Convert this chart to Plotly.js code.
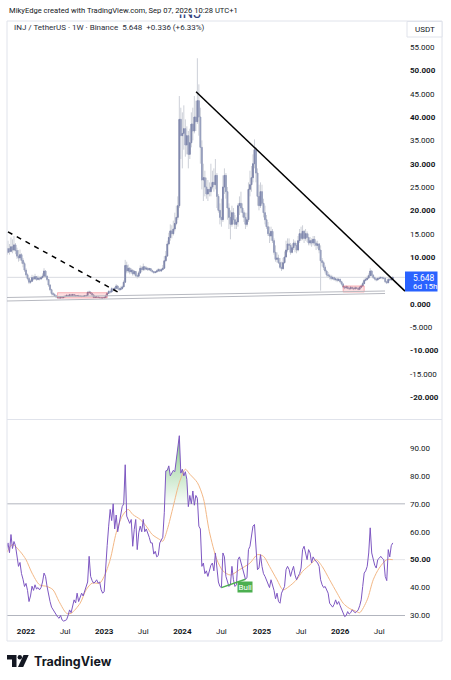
<!DOCTYPE html>
<html><head><meta charset="utf-8">
<script src="https://cdn.plot.ly/plotly-3.0.1.min.js"></script>
<style>html,body{margin:0;padding:0;background:#fff}#chart{width:451px;height:680px}</style>
</head><body><div id="chart"></div>
<script>
// ---------- DATA ----------
const weekStart = '2021-10-04';
const firstOpen = 10.5;
const closes = [
11.0,11.8,11.2,12.2,11.5,12.6,11.4,10.2,9.8,10.5,
9.3,8.6,7.2,6.2,5.4,4.6,4.8,5.6,5.3,5.8,
5.2,5.5,5.3,5.6,5.9,7.0,5.9,5.2,4.0,3.0,
2.2,2.0,1.7,1.5,1.3,1.25,1.4,1.3,1.5,1.6,
1.8,1.7,1.9,1.8,1.95,1.8,1.7,1.75,1.65,1.6,
1.55,1.6,1.7,1.75,2.4,2.5,2.2,1.9,1.35,1.45,
1.45,1.35,1.3,1.25,1.25,1.35,1.7,2.2,2.6,2.5,
3.2,3.0,3.3,3.8,3.3,3.0,3.2,3.6,4.6,8.2,
7.0,7.6,6.8,7.2,6.4,6.9,6.0,5.9,6.6,7.6,
7.3,7.9,7.4,7.6,7.3,7.5,7.1,6.9,6.7,6.8,
7.0,7.3,7.0,7.3,7.6,9.2,10.2,12.8,14.2,15.6,
15.0,16.0,17.2,18.5,21.0,39.5,36.0,36.5,37.5,34.0,
36.0,32.0,34.5,38.5,37.0,40.0,39.0,43.5,40.0,33.5,
26.5,27.0,25.0,23.5,24.5,24.0,25.0,26.0,25.5,27.5,
23.0,20.0,18.5,18.0,25.0,27.5,24.0,20.5,18.5,17.0,
19.5,18.0,17.0,17.5,21.0,21.5,20.5,19.5,18.5,17.0,
18.0,24.5,25.5,27.0,30.0,33.0,28.0,23.0,21.0,24.0,
21.5,19.5,18.0,16.5,15.0,14.5,15.5,13.5,11.0,9.5,
9.8,8.8,7.8,7.5,8.8,10.0,11.5,12.8,12.5,11.0,
12.0,13.0,12.5,11.5,13.5,15.0,14.0,15.5,14.0,15.0,
14.2,13.0,13.5,13.0,13.8,13.0,12.5,12.8,11.5,9.2,
8.8,7.8,7.0,6.2,6.0,5.8,5.4,5.6,5.2,5.3,
5.0,5.2,4.7,4.2,3.6,3.4,3.6,3.3,3.2,3.5,
3.3,3.2,3.4,3.3,3.1,3.5,3.8,4.3,5.0,5.2,
5.5,6.0,7.0,6.1,5.6,5.3,5.1,5.4,5.5,5.6,
5.5,5.45,4.7,4.5,5.2,5.1,5.312,5.648];
const highs = [
13.0,13.5,12.8,14.2,13.8,14.5,13.0,12.0,11.5,11.6,
10.8,9.8,9.0,7.6,6.5,5.6,5.2,6.2,6.0,6.4,
5.9,6.0,5.8,6.0,6.5,7.6,7.2,6.0,5.3,4.2,
3.2,2.5,2.2,1.9,1.6,1.6,1.6,1.5,1.7,1.8,
1.9,1.95,2.1,2.0,2.1,2.0,1.9,1.85,1.9,1.75,
1.7,1.75,1.8,1.9,2.7,2.8,2.6,2.3,1.9,1.6,
1.55,1.5,1.4,1.35,1.3,1.45,2.0,2.5,2.9,2.9,
3.5,3.4,3.6,4.2,3.9,3.4,3.7,3.9,5.0,9.4,
9.0,8.4,7.8,7.6,7.3,7.2,7.0,6.3,7.0,8.2,
8.0,8.6,8.1,8.0,7.8,7.7,7.6,7.3,7.0,7.0,
7.3,7.6,7.5,7.6,8.3,10.2,11.3,13.5,15.2,17.0,
16.8,17.8,19.5,21.0,23.0,44.5,42.0,41.0,42.5,39.5,
38.0,37.0,37.5,41.0,42.0,44.5,43.5,52.6,47.0,42.0,
35.0,30.0,28.5,27.0,26.5,26.0,30.0,28.5,29.0,31.0,
28.0,23.5,21.5,22.5,27.5,29.0,28.0,25.0,21.5,20.0,
21.0,20.5,19.0,18.5,21.5,23.0,24.0,21.5,20.0,19.5,
19.5,26.0,28.5,29.5,32.0,35.2,33.5,29.0,25.5,26.0,
25.5,22.5,21.0,19.0,17.5,16.5,16.5,16.0,14.0,12.5,
11.0,10.5,9.8,9.0,9.8,11.2,13.5,14.0,14.0,13.0,
12.8,13.8,13.5,13.0,14.5,16.0,16.5,16.8,15.8,16.0,
15.5,15.0,14.3,14.0,14.5,14.5,13.5,13.5,13.0,12.5,
9.8,9.2,8.2,7.3,6.8,6.4,6.2,6.0,5.8,5.6,
5.5,5.5,5.4,4.9,4.4,3.8,3.9,3.8,3.5,3.8,
3.6,3.5,3.7,3.6,3.5,3.8,4.1,4.7,5.4,5.7,
6.0,6.5,7.6,7.2,6.3,5.8,5.5,5.7,5.8,5.9,
5.8,5.8,5.5,4.9,5.5,5.5,5.6,5.8];
const lows = [
10.2,10.8,10.5,11.0,10.8,11.2,10.6,9.6,9.0,9.2,
8.6,7.8,6.8,5.8,5.0,4.2,4.3,4.7,5.0,5.1,
4.9,5.0,5.0,5.1,5.4,5.8,5.6,4.8,3.6,2.7,
1.8,1.7,1.5,1.2,1.1,1.1,1.0,1.1,1.2,1.4,
1.5,1.6,1.6,1.7,1.75,1.7,1.6,1.6,1.55,1.5,
1.4,1.45,1.5,1.6,1.7,2.1,2.0,1.6,1.2,1.3,
1.35,1.3,1.2,1.15,1.15,1.2,1.35,1.7,2.1,2.2,
2.5,2.7,2.8,3.1,3.0,2.7,2.9,3.2,3.5,4.5,
6.5,6.6,6.3,6.4,6.0,6.1,5.7,5.4,5.6,6.4,
6.8,7.0,7.1,7.2,7.0,7.0,6.9,6.6,6.4,6.5,
6.6,6.9,6.8,6.9,7.2,7.5,9.0,10.2,12.5,13.5,
14.0,14.6,15.5,16.8,18.0,20.5,31.0,29.0,33.0,31.5,
32.0,29.0,31.0,33.5,35.0,36.5,37.0,38.5,36.0,30.0,
24.5,22.0,23.0,22.5,22.0,23.0,23.0,24.5,24.0,24.5,
20.5,19.5,17.0,16.5,17.5,23.5,22.5,18.0,16.0,13.8,
16.5,17.0,16.0,16.0,16.5,19.0,19.5,18.5,17.5,16.0,
16.5,17.5,23.0,24.0,26.0,29.0,26.0,21.0,20.0,20.5,
21.0,18.5,17.0,16.0,14.5,13.0,13.5,13.0,10.5,9.0,
8.8,8.5,7.5,7.0,7.3,8.6,10.0,11.0,11.5,10.5,
10.8,11.5,11.0,10.8,11.2,13.0,13.5,13.6,13.0,13.5,
13.2,12.5,12.5,12.2,12.5,12.3,11.5,11.8,10.8,2.8,
8.0,7.2,6.5,5.8,5.5,5.2,5.0,5.1,4.9,4.8,
4.6,4.8,4.4,3.9,3.3,3.1,3.2,3.1,3.0,3.1,
3.0,2.9,3.0,3.1,2.9,3.0,3.3,3.7,4.2,4.8,
5.0,5.3,5.9,5.8,5.3,5.0,4.8,5.0,5.2,5.3,
5.2,5.2,4.4,4.2,4.4,4.9,5.0,5.25];
const rsi = [
53.6,56,52.5,59,54,56.5,55,51,47.6,49,
45,43,40.4,41.5,39,35,37,40.5,39,41,
39.5,40,39.2,40,42,45.2,44,40.4,37,35,
33,32,31,30,29.5,29,30,28.4,28,28.2,
28.5,30,32,31,34,35.6,34.5,38,35,36.5,
38,37,39,40,42,51.2,44,42.5,41.6,42,
42.8,41.6,42,39.2,38,38.5,48,55,62,68,
64,70,61,66,60,63,66,69,70,84,
65.6,64,63,64.4,54.8,60.8,64.4,53.6,59.6,62,
60,64.4,60,61,59.6,58,56,56,52,53,
51,51.5,56,57,58,66.8,81.8,82,83.6,80,
81,82,81.5,86,90,94.4,81,82.4,80,81.5,
78.8,69,73,70,74.6,69.5,73,72,62,61,
47.6,48.8,45,46,44,46.4,48,48.8,46,52.4,
46,42,40.4,40,52.4,51,44,42,40.4,41,
47.6,42.8,40.4,41,50,51,48.8,47.6,45,43,
43.5,53.6,54.8,58.4,62,62.6,54.8,46.4,47,51.8,
47.6,45,44,42.8,41,40,42.8,41,39,36,
38,35,34.4,38,39,40.4,46.4,47.6,46.5,44,
46,47.6,44.5,42.8,44,45,47,53.6,54.8,52,
50,53.6,52.4,48.8,51,50,49.5,48.8,47.6,42.8,
41,40,40.4,39,38,34.4,33.5,33,34,35.6,
34,35,33.5,32,30.5,29.6,30,31.4,30.5,31,
32,31.5,31,31.4,32,33.5,35.6,40.4,45.2,46,
47.6,52.4,61.4,52.4,50,48,47,50,50.5,51.2,
50.5,50,44,42.5,53.6,51,55,56];
const maIdx = [0,4,9,13,17,22,27,31,35,40,43,49,53,57,62,65,69,73,77,81,84,89,93,97,102,104,107,111,115,119,122,127,131,135,140,144,149,155,162,167,171,175,180,184,188,193,197,202,206,210,215,220,224,228,233,235,240,244,248,253,257];
const maVal = [52.4,55.4,53,50,45.2,41,40.4,39.2,35,30.8,30.8,34.4,39.2,41.6,41.6,44,50,59.6,65.6,68,66.2,64.4,62,59,57.2,56.6,60.8,69.2,77.6,82.4,80.6,77.6,72,60,50,46,44.5,46.4,48.8,51.8,51.2,47.6,42.8,39.2,40.4,42.8,45.8,48.2,50,47.6,42.8,38,34.4,32.6,31.4,31,35.6,42.8,47,50,50];
const bullIdx = [143, 159];
const priceTicks = [55,50,45,40,35,30,25,20,15,10,0,-5,-10,-15,-20];
const priceTickText = ['55.000','<b>50.000</b>','45.000','<b>40.000</b>','35.000','<b>30.000</b>','25.000','<b>20.000</b>','15.000','<b>10.000</b>','<b>0.000</b>','-5.000','<b>-10.000</b>','-15.000','<b>-20.000</b>'];
const rsiTicks = [90,80,70,60,50,40,30];
const rsiTickText = ['90.00','80.00','70.00','60.00','<b>50.00</b>','40.00','30.00'];
const timeTicks = ['2022-01-03','2022-07-04','2023-01-02','2023-07-03','2024-01-01','2024-07-01','2025-01-06','2025-07-07','2026-01-05','2026-07-06'];
const timeTickText = ['<b>2022</b>','Jul','<b>2023</b>','Jul','<b>2024</b>','Jul','<b>2025</b>','Jul','<b>2026</b>','Jul'];
// drawings (user trend lines / zones) in data space
const trendSolid = [['2024-03-05',45.4],['2026-11-03',2.7]];
const trendDashed = [['2021-10-11',15.4],['2023-03-07',2.5]];
const supportTop = [['2021-10-04',1.33],['2026-08-02',2.72]];
const supportBottom = [['2021-10-04',0.58],['2026-08-02',2.19]];
const zones = [[34,67,1.22,2.36],[224,238,2.5,3.8]];

// ---------- BUILD ----------
const FONT = 'Roboto, "Open Sans", Arial, sans-serif';
const DAY = 86400000;
const t0 = Date.parse(weekStart + 'T00:00:00Z');
const dates = closes.map((_, i) => new Date(t0 + i * 7 * DAY).toISOString().slice(0, 10));
const opens = closes.map((c, i) => i === 0 ? firstOpen : closes[i - 1]);
const bodyHi = opens.map((o, i) => Math.max(o, closes[i]));
const bodyLo = opens.map((o, i) => Math.min(o, closes[i]));
const last = closes[closes.length - 1];
const xr = ['2021-10-06 12:00', '2026-11-03'];
const W = 451, H = 680;
const XL = 7, XR = 405;

const wickCol = '#cdd0d8';
const traces = [
  {type:'candlestick', x:dates, open:opens, high:highs, low:lows, close:closes, xaxis:'x', yaxis:'y',
   increasing:{line:{color:wickCol,width:1}, fillcolor:wickCol},
   decreasing:{line:{color:wickCol,width:1}, fillcolor:wickCol},
   whiskerwidth:0, hoverinfo:'skip', showlegend:false},
  {type:'candlestick', x:dates, open:opens, high:bodyHi, low:bodyLo, close:closes, xaxis:'x', yaxis:'y',
   increasing:{line:{color:'#8088ad',width:1}, fillcolor:'#8088ad'},
   decreasing:{line:{color:'#979fbd',width:1}, fillcolor:'#979fbd'},
   whiskerwidth:0, hoverinfo:'skip', showlegend:false},
  // RSI overbought fill
  {type:'scatter', mode:'lines', x:dates, y:rsi.map(() => 70), xaxis:'x2', yaxis:'y2',
   line:{width:0, color:'rgba(0,0,0,0)'}, hoverinfo:'skip', showlegend:false},
  {type:'scatter', mode:'lines', x:dates, y:rsi.map(v => Math.max(v, 70)), xaxis:'x2', yaxis:'y2',
   line:{width:0, color:'rgba(0,0,0,0)'}, fill:'tonexty',
   fillgradient:{type:'vertical', start:70, stop:95,
     colorscale:[[0,'rgba(76,175,80,0.03)'],[1,'rgba(76,175,80,0.7)']]},
   hoverinfo:'skip', showlegend:false},
  {type:'scatter', mode:'lines', x:maIdx.map(i => dates[i]), y:maVal, xaxis:'x2', yaxis:'y2',
   line:{color:'#f3b886', width:1, shape:'spline', smoothing:0.8}, hoverinfo:'skip', showlegend:false},
  {type:'scatter', mode:'lines', x:dates, y:rsi, xaxis:'x2', yaxis:'y2',
   line:{color:'#7e57c2', width:1}, hoverinfo:'skip', showlegend:false},
  {type:'scatter', mode:'lines', x:bullIdx.map(i => dates[i]), y:bullIdx.map(i => rsi[i]), xaxis:'x2', yaxis:'y2',
   line:{color:'#4caf50', width:1.5}, hoverinfo:'skip', showlegend:false},
  // watermark text, clipped so only its lower part shows (as in the screenshot)
  {type:'scatter', mode:'text', x:[0.5], y:[1.0], text:['INJ'], xaxis:'x4', yaxis:'y4',
   textfont:{family:FONT, size:15, color:'#34427e'}, cliponaxis:true, hoverinfo:'skip', showlegend:false}
];

const px = (o) => Object.assign({xref:'x3', yref:'y3'}, o);
const shapes = [
  px({type:'rect', x0:7, y0:21, x1:442, y1:641, line:{color:'#e0e3eb', width:1}, layer:'below'}),
  px({type:'line', x0:7, y0:419.5, x1:442, y1:419.5, line:{color:'#e0e3eb', width:1}, layer:'below'}),
  px({type:'rect', x0:407, y0:21.5, x1:442, y1:37, line:{color:'#e0e3eb', width:1}, fillcolor:'#fff', layer:'below'}),
  // RSI bands
  {type:'line', xref:'paper', yref:'y2', x0:XL/W, x1:XR/W, y0:70, y1:70, line:{color:'#b2b5be', width:1}, layer:'below'},
  {type:'line', xref:'paper', yref:'y2', x0:XL/W, x1:XR/W, y0:50, y1:50, line:{color:'#e3e4e8', width:1}, layer:'below'},
  {type:'line', xref:'paper', yref:'y2', x0:XL/W, x1:XR/W, y0:30, y1:30, line:{color:'#b2b5be', width:1}, layer:'below'},
  // last price line
  {type:'line', xref:'paper', yref:'y', x0:XL/W, x1:XR/W, y0:last, y1:last, line:{color:'#d9dbe1', width:1}, layer:'below'},
  // zones
  ...zones.map(z => ({type:'rect', xref:'x', yref:'y', x0:dates[z[0]], x1:dates[z[1]], y0:z[2], y1:z[3],
    fillcolor:'rgba(242,54,69,0.16)', line:{color:'rgba(242,54,69,0.35)', width:1}, layer:'above'})),
  // support channel lines
  {type:'line', xref:'x', yref:'y', x0:supportTop[0][0], y0:supportTop[0][1], x1:supportTop[1][0], y1:supportTop[1][1], line:{color:'#b7b9c0', width:1}},
  {type:'line', xref:'x', yref:'y', x0:supportBottom[0][0], y0:supportBottom[0][1], x1:supportBottom[1][0], y1:supportBottom[1][1], line:{color:'#b7b9c0', width:1}},
  // trend lines
  {type:'line', xref:'x', yref:'y', x0:trendSolid[0][0], y0:trendSolid[0][1], x1:trendSolid[1][0], y1:trendSolid[1][1], line:{color:'#000', width:1.5}},
  {type:'line', xref:'x', yref:'y', x0:trendDashed[0][0], y0:trendDashed[0][1], x1:trendDashed[1][0], y1:trendDashed[1][1], line:{color:'#000', width:1.5, dash:'5px,5px'}},
  // price label box
  px({type:'rect', x0:405, y0:271.5, x1:437.5, y1:291.5, fillcolor:'#2962ff', line:{width:0}, layer:'above'}),
  // TradingView logo
  px({type:'path', path:'M7,655 L16.5,655 L16.5,667 L12,667 L12,659.5 L7,659.5 Z', fillcolor:'#131722', line:{width:0}}),
  px({type:'circle', x0:17.6, y0:655, x1:22, y1:659.4, fillcolor:'#131722', line:{width:0}}),
  px({type:'path', path:'M23.5,655 L28.7,655 L23.2,667 L18,667 Z', fillcolor:'#131722', line:{width:0}})
];

const ann = (o) => Object.assign({xref:'x3', yref:'y3', showarrow:false, font:{family:FONT, size:8, color:'#131722'}}, o);
const annotations = [
  ann({x:7, y:10, xanchor:'left', yanchor:'middle', text:'MikyEdge created with TradingView.com, Sep 07, 2026 10:28 UTC+1', font:{family:FONT, size:7.6, color:'#131722'}}),
  ann({x:12, y:27, xanchor:'left', yanchor:'middle', text:'INJ / TetherUS · 1W · Binance&nbsp;&nbsp;5.648&nbsp;&nbsp;+0.336 (+6.33%)', font:{family:FONT, size:8, color:'#2a2e39'}}),
  ann({x:424.5, y:29.5, xanchor:'center', yanchor:'middle', text:'USDT'}),
  ann({x:410.5, y:277.5, xanchor:'left', yanchor:'middle', text:'5.648', font:{family:FONT, size:8.5, color:'#ffffff'}}),
  ann({x:410.5, y:286.5, xanchor:'left', yanchor:'middle', text:'6d 15h', font:{family:FONT, size:8, color:'#ffffff'}}),
  ann({x:32, y:661.5, xanchor:'left', yanchor:'middle', text:'<b>TradingView</b>', font:{family:'Inter, Roboto, sans-serif', size:12.5, color:'#131722'}}),
  {xref:'x2', yref:'y2', x:dates[bullIdx[1]], y:rsi[bullIdx[1]], text:'Bull', showarrow:false,
   xanchor:'center', yanchor:'top', yshift:-2, bgcolor:'#4caf50', borderpad:0.5,
   font:{family:FONT, size:8, color:'#ffffff'}}
];

const layout = {
  width:W, height:H, margin:{l:0, r:0, t:0, b:0},
  paper_bgcolor:'#ffffff', plot_bgcolor:'rgba(0,0,0,0)',
  showlegend:false, hovermode:false, dragmode:false,
  xaxis:{domain:[XL/W, XR/W], anchor:'y', type:'date', range:xr, showticklabels:false, showgrid:false,
         zeroline:false, showline:false, ticks:'', rangeslider:{visible:false}, fixedrange:true},
  yaxis:{domain:[1 - 418/H, 1 - 36/H], anchor:'x', side:'right', range:[-24.49, 57.36],
         tickvals:priceTicks, ticktext:priceTickText, tickfont:{family:FONT, size:8, color:'#131722'},
         showgrid:false, zeroline:false, showline:false, ticks:'', ticklabelstandoff:4, fixedrange:true},
  xaxis2:{domain:[XL/W, XR/W], anchor:'y2', type:'date', range:xr, tickvals:timeTicks, ticktext:timeTickText,
          tickfont:{family:FONT, size:8, color:'#131722'}, showgrid:false, zeroline:false, showline:false,
          ticks:'', rangeslider:{visible:false}, fixedrange:true},
  yaxis2:{domain:[1 - 625/H, 1 - 421/H], anchor:'x2', side:'right', range:[26.6, 99.67],
          tickvals:rsiTicks, ticktext:rsiTickText, tickfont:{family:FONT, size:8, color:'#131722'},
          showgrid:false, zeroline:false, showline:false, ticks:'', ticklabelstandoff:4, fixedrange:true},
  xaxis3:{domain:[0,1], anchor:'y3', range:[0, W], visible:false, fixedrange:true},
  yaxis3:{domain:[0,1], anchor:'x3', range:[H, 0], visible:false, fixedrange:true},
  xaxis4:{domain:[178/W, 202/W], anchor:'y4', range:[0, 1], visible:false, fixedrange:true},
  yaxis4:{domain:[1 - 20.5/H, 1 - 14.5/H], anchor:'x4', range:[0, 1], visible:false, fixedrange:true},
  shapes, annotations
};

Plotly.newPlot('chart', traces, layout, {displayModeBar:false, staticPlot:true});
</script>
</body></html>
